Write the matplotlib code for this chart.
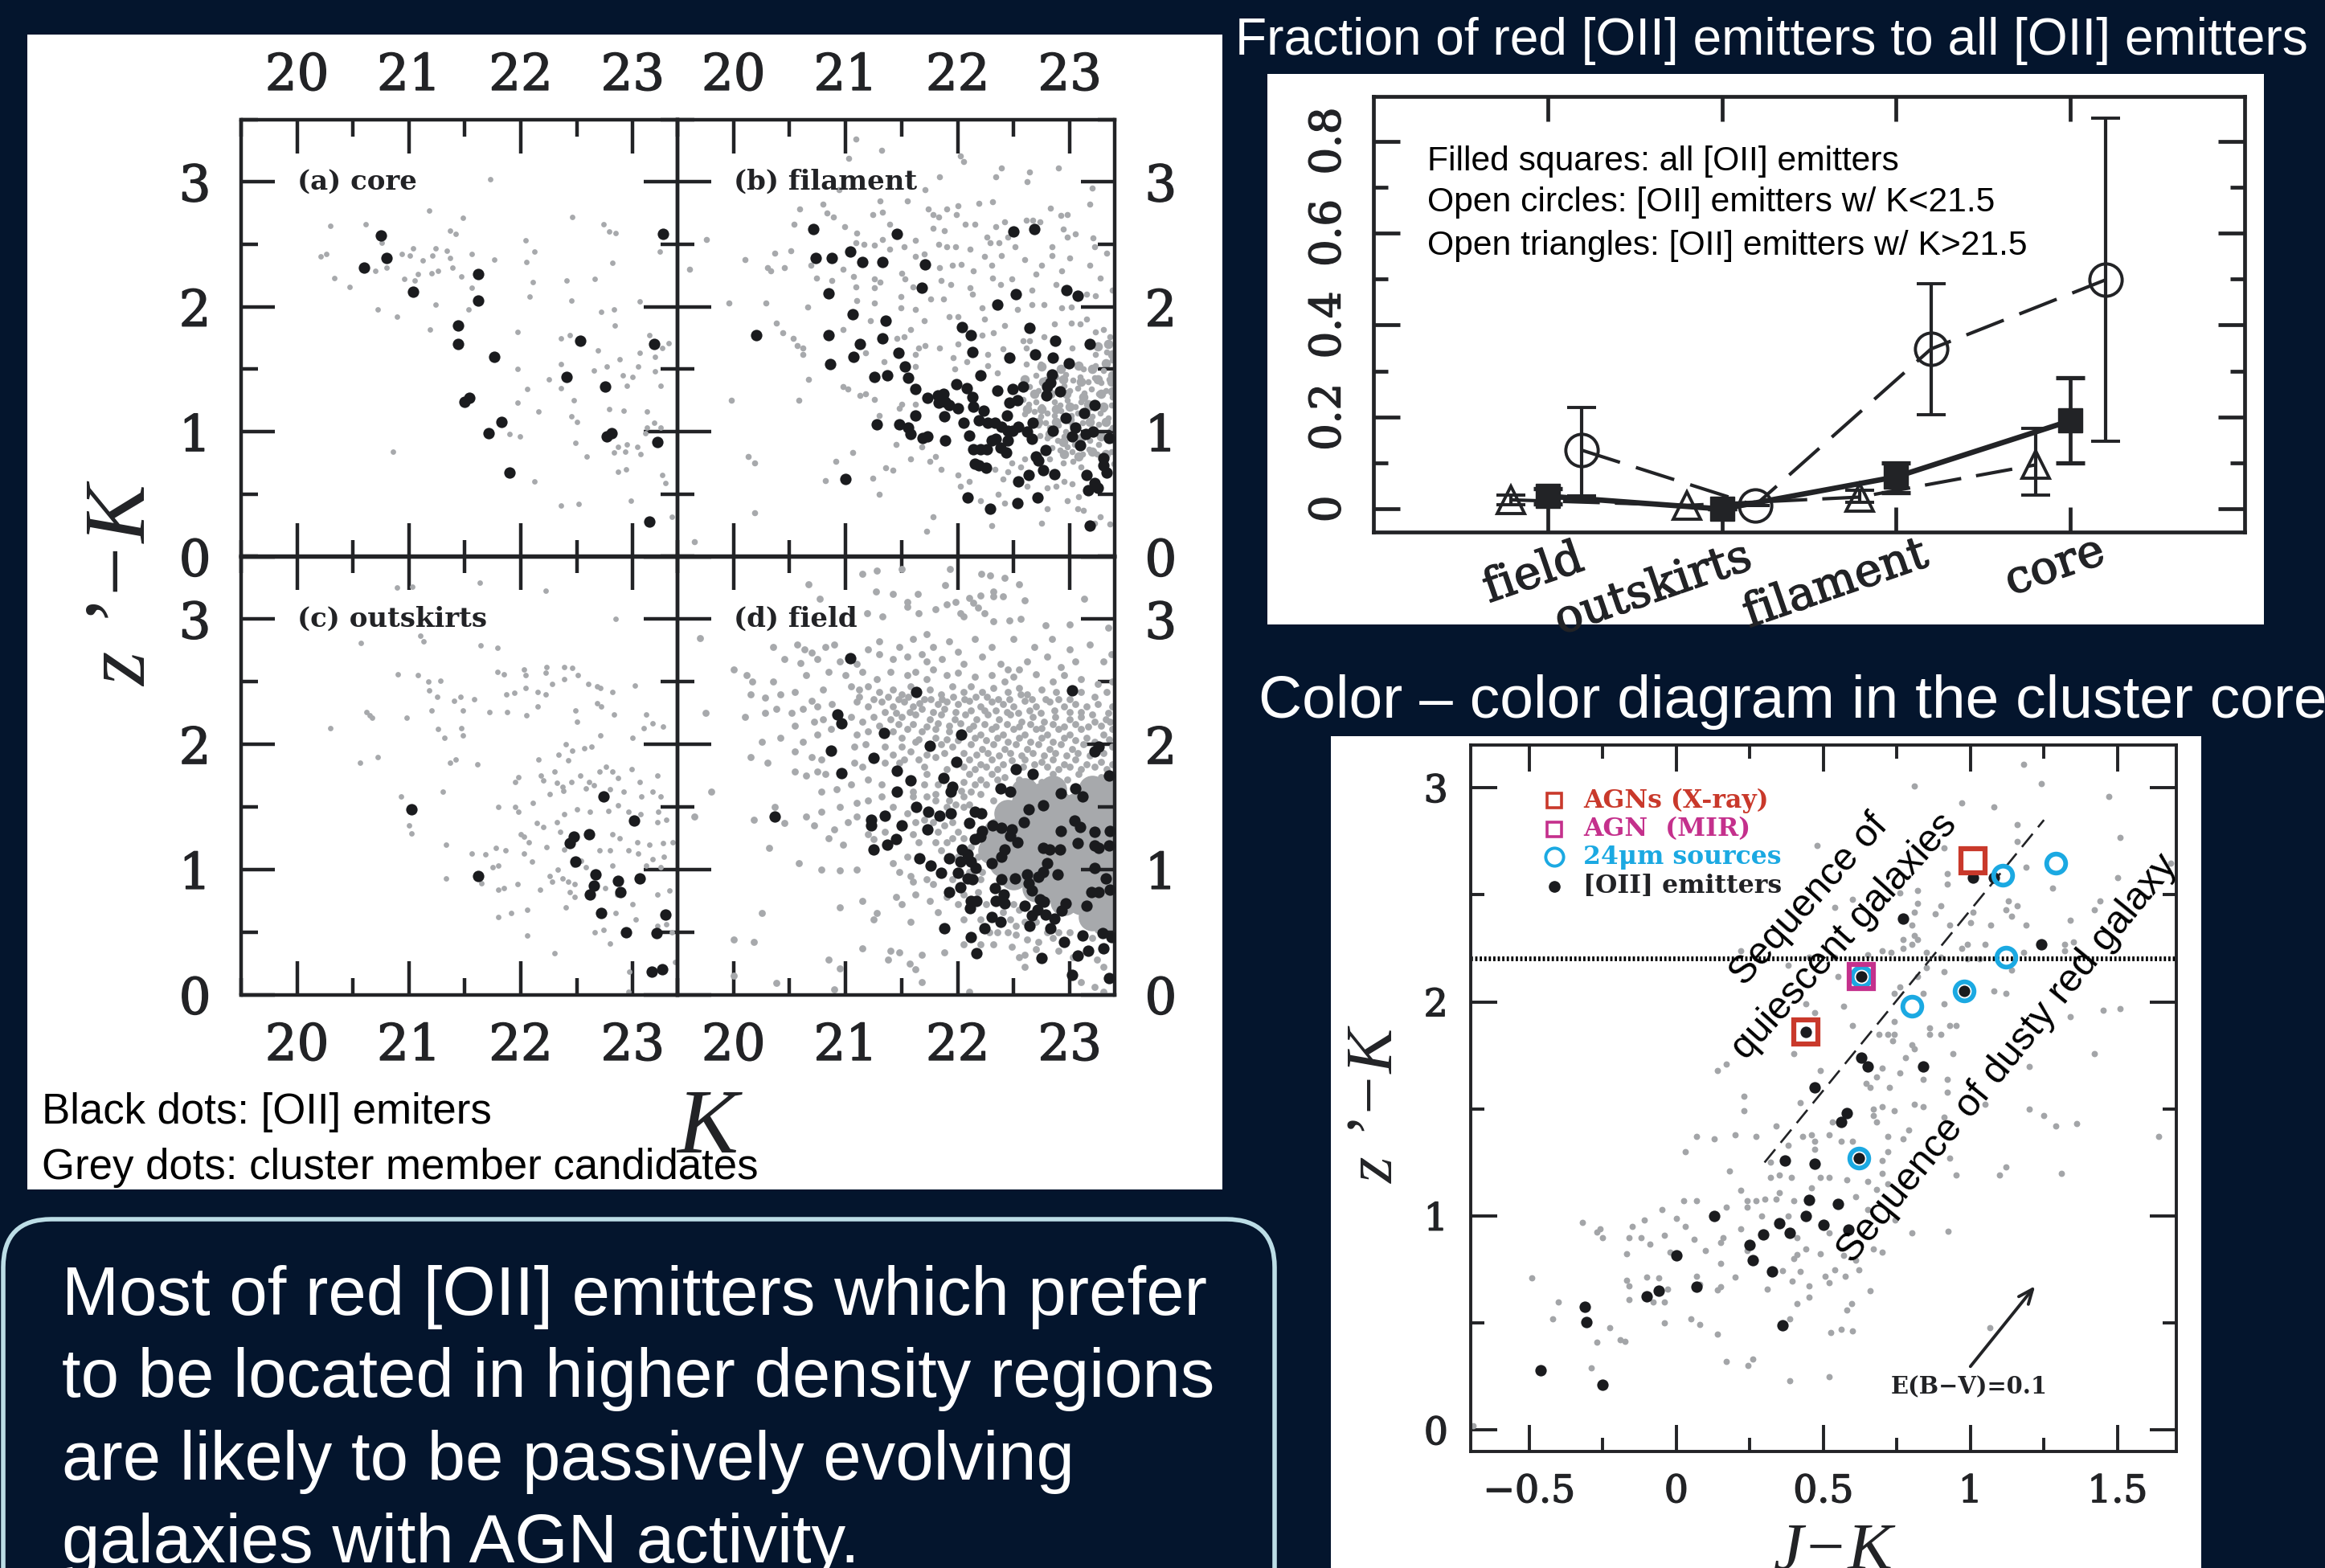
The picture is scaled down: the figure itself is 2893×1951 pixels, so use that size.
import matplotlib
matplotlib.use('Agg')
import matplotlib.pyplot as plt
import matplotlib.patheffects as pe
import numpy as np
from matplotlib.patches import Rectangle, FancyBboxPatch
from matplotlib.ticker import MultipleLocator

W, H = 2893, 1951
BG = '#04152d'
INK = '#222326'
GREY = '#a7a9ac'
RED = '#c9392b'
MAGENTA = '#c4308c'
CYAN = '#1ba9e2'

# (K, z'-K)
core_black = [(20.75,2.57),(20.80,2.39),(20.60,2.31),(21.04,2.12),(21.62,2.26),(21.62,2.05),(21.44,1.85),(21.44,1.70),
    (21.76,1.60),(21.54,1.27),(21.50,1.24),(21.83,1.08),(21.71,0.99),(21.90,0.67),(22.53,1.73),(22.41,1.44),(22.75,1.36),
    (22.81,0.99),(22.77,0.96),(23.19,1.70),(23.22,0.92),(23.15,0.28),(23.27,2.58)]
core_grey = [(20.30,2.65),(20.61,2.66),(20.21,2.40),(20.26,2.42),(20.33,2.23),(20.47,2.16),(20.72,1.98),(20.89,1.92),(20.86,0.84),
    (21.73,3.02),(21.18,2.77),(21.48,2.71),(21.37,2.61),(21.42,2.58),(20.76,2.51),(20.94,2.42),(21.04,2.47),(21.01,2.41),(21.12,2.37),
    (21.21,2.41),(21.24,2.47),(21.34,2.45),(21.37,2.39),(21.39,2.31),(21.26,2.29),(21.20,2.27),(21.08,2.26),(20.96,2.22),(21.05,2.21),
    (20.70,2.29),(20.80,2.31),(21.47,2.24),(21.56,2.15),(21.53,1.98),(21.24,2.02),(21.19,1.82),(21.56,2.42),(21.76,2.38),(22.04,2.53),
    (22.12,2.44),(22.05,2.36),(22.11,2.20),(22.08,2.08),(21.97,1.80),(21.97,1.50),(22.06,1.34),(21.97,1.23),(22.16,1.16),(21.90,0.98),
    (21.99,0.96),(22.12,0.60),(22.36,0.41),(22.52,0.42),(22.46,2.72),(22.74,2.66),(22.79,2.60),(22.85,2.59),(22.82,2.35),(22.66,2.22),
    (22.41,2.21),(22.45,2.05),(22.72,1.96),(22.83,1.98),(22.84,1.85),(23.06,2.04),(22.44,1.77),(22.36,1.75),(22.69,1.65),(22.88,1.58),
    (22.77,1.52),(22.65,1.49),(22.36,1.54),(22.25,1.42),(22.36,1.35),(22.47,1.25),(22.45,1.12),(22.50,1.08),(22.79,1.18),(22.92,1.17),
    (23.13,1.16),(22.49,0.91),(22.59,0.80),(22.87,0.88),(22.95,0.90),(23.04,0.88),(22.83,0.83),(22.93,0.84),(23.07,0.82),(22.87,0.68),
    (22.94,0.70),(22.98,0.45),(23.26,0.65),(23.29,0.59),(23.35,0.32),(22.91,1.45),(23.00,1.44),(22.95,1.37),(23.05,1.52),(23.06,1.63),
    (23.20,1.60),(23.20,1.48),(23.25,1.37),(23.15,1.77),(23.32,1.71),(23.26,1.67),(23.24,2.44),(23.13,1.03),(23.19,1.07),(23.25,1.03),(23.11,0.99)]

filament_black = [(20.71,2.62),(20.73,2.39),(20.88,2.39),(21.04,2.44),(21.15,2.36),(21.33,2.36),(21.46,2.58),(21.71,2.34),(21.68,2.15),
    (20.85,2.11),(21.06,1.94),(21.36,1.89),(20.20,1.77),(20.85,1.77),(21.33,1.75),(21.13,1.70),(21.07,1.60),(20.86,1.54),(21.47,1.63),
    (21.53,1.52),(21.26,1.44),(21.37,1.45),(21.56,1.43),(21.62,1.34),(21.73,1.27),(21.82,1.29),(21.87,1.30),(21.83,1.23),(21.89,1.24),
    (21.92,1.21),(21.99,1.38),(22.08,1.35),(22.13,1.28),(22.00,1.19),(21.62,1.13),(21.88,1.12),(21.28,1.06),(21.48,1.06),(21.56,1.03),
    (21.58,0.98),(21.69,0.95),(21.73,0.96),(21.89,0.93),(22.05,1.07),(22.10,0.97),(22.14,1.20),(22.23,1.17),(22.19,1.09),(22.27,1.07),
    (22.33,1.07),(22.14,0.86),(22.20,0.86),(22.26,0.86),(22.30,0.93),(22.34,0.94),(22.38,0.87),(22.43,0.83),(22.45,0.93),(22.39,1.04),
    (22.45,1.01),(22.49,1.01),(22.54,1.04),(22.44,1.13),(22.46,1.23),(22.53,1.25),(22.35,1.33),(22.49,1.34),(22.58,1.36),(22.20,1.45),
    (22.13,1.64),(22.12,1.77),(22.04,1.84),(22.35,2.02),(22.52,2.10),(22.64,1.83),(22.46,1.59),(22.69,1.62),(22.87,1.73),(22.85,1.59),
    (22.99,1.55),(23.18,1.70),(22.97,2.13),(23.07,2.09),(22.50,2.60),(22.68,2.62),(22.84,1.46),(22.83,1.39),(22.80,1.36),(22.91,1.32),
    (22.79,1.29),(23.22,1.21),(23.13,1.15),(22.96,1.11),(22.67,1.07),(22.62,1.00),(22.66,0.94),(22.85,1.01),(23.05,1.03),(23.02,0.96),
    (23.14,0.98),(23.21,1.00),(23.09,0.89),(23.35,0.95),(22.78,0.85),(22.70,0.80),(22.72,0.77),(22.76,0.69),(22.86,0.66),(22.63,0.65),
    (22.54,0.60),(22.15,0.74),(22.19,0.73),(22.25,0.71),(22.09,0.47),(22.29,0.38),(22.53,0.43),(22.71,0.47),(23.15,0.65),(23.16,0.53),
    (23.22,0.59),(23.25,0.55),(23.30,0.79),(23.30,0.73),(23.33,0.67),(23.18,0.25),(21.00,0.62)]
filament_grey = [(19.76,2.54),(19.61,2.30),(20.10,2.38),(20.37,2.43),(20.51,2.45),(20.30,2.31),(20.33,2.29),(20.45,2.31),(19.96,2.03),(20.29,2.03),
    (20.66,2.0),(20.38,1.87),(20.44,1.79),(20.53,1.75),(20.57,1.69),(20.62,1.67),(20.62,1.62),(20.67,1.42),(19.98,1.25),(20.58,1.25),(20.13,0.80),
    (20.19,0.75),(20.19,0.35),(19.65,0.12),(20.91,0.76),(21.06,0.83),(20.82,0.61),(21.24,0.63),(21.30,0.50),(20.98,1.36),(21.02,1.34),(21.13,1.29),
    (21.18,1.30),(21.26,1.26),(21.09,3.34),(21.32,3.25),(21.03,3.19),(22.02,3.21),(22.05,3.16),(21.84,3.04),(22.39,3.11),(22.34,3.04),(22.64,3.08),
    (22.62,3.0),(22.90,3.11),(23.2,2.95),(21.71,2.94),(20.94,2.94),(21.31,2.85),(21.55,2.85),(20.59,2.78),(20.80,2.82),(20.83,2.75),(20.89,2.72),
    (21.33,2.76),(21.24,2.74),(21.74,2.78),(21.90,2.78),(22.0,2.81),(22.19,2.83),(22.31,2.84),(21.78,2.74),(21.83,2.72),(21.99,2.74),(22.07,2.66),
    (22.15,2.66),(22.83,2.79),(22.92,2.73),(22.98,2.74),(23.18,2.82),(20.54,2.66),(20.99,2.64),(21.10,2.59),(21.39,2.66),(21.78,2.63),(21.88,2.61),
    (22.34,2.64),(22.42,2.68),(22.45,2.56),(22.61,2.69),(22.67,2.69),(22.73,2.68),(22.94,2.62),(22.98,2.56),(23.05,2.58),(23.21,2.55),(23.22,2.48),
    (23.33,2.43),(21.09,2.51),(21.16,2.50),(21.26,2.49),(21.33,2.54),(21.39,2.46),(21.52,2.48),(21.62,2.53),(21.83,2.50),(21.90,2.48),(21.98,2.48),
    (22.11,2.46),(22.26,2.56),(22.29,2.51),(22.37,2.51),(22.51,2.48),(22.84,2.48),(21.62,2.40),(21.70,2.42),(22.24,2.40),(22.39,2.41),(22.60,2.38),
    (22.84,2.41),(23.0,2.39),(22.75,2.33),(23.18,2.33),(20.69,2.33),(20.74,2.23),(20.88,2.21),(20.98,2.30),(21.07,2.24),(21.26,2.22),(21.31,2.20),
    (21.50,2.27),(21.53,2.22),(21.84,2.31),(21.95,2.33),(22.03,2.34),(22.14,2.29),(22.30,2.33),(22.31,2.23),(22.70,2.26),(22.93,2.29),(23.27,2.23),
    (21.09,2.16),(21.26,2.15),(21.49,2.08),(21.60,2.16),(21.85,2.21),(21.94,2.18),(22.11,2.15),(22.38,2.18),(22.48,2.22),(22.66,2.13),(22.88,2.18),
    (23.15,2.10),(23.23,2.09),(23.38,2.13),(21.10,2.05),(21.26,2.03),(21.49,1.99),(21.62,1.98),(21.76,2.06),(21.87,2.06),(22.13,2.10),(22.22,1.99),
    (22.53,1.98),(22.66,2.02),(22.77,2.02),(22.93,1.99),(23.01,2.0),(23.15,1.90),(21.22,1.89),(20.98,1.82),(21.58,1.82),(21.70,1.89),(21.92,1.92),
    (22.0,1.92),(22.24,1.90),(22.42,1.85),(22.86,1.86),(23.01,1.87),(23.09,1.86),(21.52,1.76),(21.46,1.75),(21.65,1.67),(21.71,1.69),(21.84,1.67),
    (22.0,1.70),(22.22,1.77),(22.32,1.79),(22.58,1.73),(22.64,1.73),(22.77,1.76),(23.23,1.80),(23.30,1.82),(23.36,1.76),(21.18,1.63),(21.62,1.62),
    (21.96,1.59),(22.08,1.56),(22.27,1.62),(22.40,1.66),(22.61,1.67),(23.02,1.67),(23.23,1.62),(23.33,1.64),(23.38,1.57),(21.34,1.56),(21.62,1.52),
    (21.97,1.50),(22.27,1.53),(22.35,1.47),(22.61,1.54),(22.74,1.54),(23.12,1.50),(23.23,1.53),(23.30,1.49),(22.70,1.45),(22.78,1.42),(22.88,1.44),
    (22.96,1.46),(23.03,1.41),(23.09,1.44),(23.16,1.40),(23.22,1.43),(23.28,1.39),(23.35,1.42),(22.64,1.36),(22.72,1.33),(22.95,1.37),(23.00,1.33),
    (23.07,1.35),(23.13,1.31),(23.19,1.34),(23.26,1.30),(23.32,1.33),(23.38,1.28),(22.58,1.26),(22.63,1.22),(22.70,1.24),(22.75,1.20),(22.86,1.24),
    (22.91,1.21),(22.98,1.25),(23.05,1.20),(23.10,1.24),(23.17,1.19),(23.24,1.22),(23.30,1.18),(23.37,1.21),(22.60,1.14),(22.68,1.16),(22.74,1.12),
    (22.80,1.15),(22.86,1.13),(22.92,1.17),(23.01,1.13),(23.07,1.15),(23.20,1.12),(23.27,1.15),(23.34,1.11),(22.72,1.05),(22.78,1.07),(22.82,1.03),
    (22.90,1.05),(22.96,1.00),(23.02,1.05),(23.11,1.07),(23.26,1.06),(23.38,1.03),(22.73,0.97),(22.80,0.95),(22.89,0.93),(22.95,0.96),(23.04,0.90),
    (23.18,0.93),(23.26,0.90),(23.38,0.93),(22.84,0.87),(22.91,0.85),(22.98,0.88),(23.02,0.84),(23.11,0.82),(23.17,0.86),(23.24,0.82),(23.37,0.84),
    (22.48,0.75),(22.56,0.72),(22.60,0.78),(22.82,0.78),(22.94,0.75),(23.03,0.76),(23.10,0.72),(23.39,0.74),(21.56,0.98),(21.68,0.88),(21.80,0.80),
    (22.33,0.70),(22.40,0.62),(22.45,0.68),(22.62,0.56),(22.80,0.55),(22.88,0.56),(22.95,0.60),(23.02,0.58),(23.08,0.48),(22.10,0.60),(22.00,0.65),
    (21.85,0.70),(21.75,0.76),(21.58,0.78),(21.42,0.69),(21.36,0.71),(21.45,0.90),(21.30,1.13),(21.48,1.19),(21.50,1.22),(21.62,1.22),(22.02,0.56),
    (22.36,0.50),(22.42,0.43),(22.20,0.45),(22.80,0.38),(22.98,0.45),(23.07,0.38),(23.12,0.37),(23.22,0.27),(23.27,0.32),(23.36,0.26),(22.30,0.25),
    (22.75,0.27),(21.72,0.20),(21.78,0.32)]
# the crowded patch of the filament panel
filament_crowd = [(22.75,1.52),(22.92,1.50),(23.08,1.53),(23.20,1.50),(23.32,1.55),(22.60,1.42),(22.76,1.40),(22.94,1.42),(23.10,1.40),(23.25,1.42),(23.37,1.40),
    (22.68,1.30),(22.83,1.30),(22.97,1.30),(23.12,1.28),(23.28,1.30),(23.38,1.32),(22.62,1.18),(22.75,1.18),(22.88,1.18),(23.00,1.20),(23.16,1.22),(23.30,1.20),
    (22.72,1.08),(22.88,1.08),(23.00,1.10),(23.18,1.08),(23.32,1.08),(22.82,0.98),(22.94,0.92),(23.10,0.95),(23.28,0.96),(23.37,1.00),(22.95,0.82),(23.08,0.80),
    (23.20,0.84),(23.32,0.82),(23.38,1.45),(23.25,1.68),(23.34,1.70),(23.38,1.62)]

outskirts_black = [(21.02,1.48),(21.62,0.95),(22.74,1.58),(23.01,1.39),(22.47,1.26),(22.44,1.21),(22.61,1.28),(22.49,1.06),(22.67,0.96),
    (22.65,0.87),(22.62,0.80),(22.87,0.91),(22.89,0.82),(23.06,0.93),(22.72,0.65),(22.94,0.50),(23.21,0.49),(23.29,0.64),(23.17,0.18),(23.26,0.20)]
outskirts_grey = [(20.89,3.25),(21.03,3.26),(21.63,3.29),(22.22,3.23),(22.85,3.0),(21.10,2.87),(21.13,2.82),(20.57,2.81),(21.64,2.79),(21.79,2.77),
    (22.22,2.57),(22.23,2.62),(22.03,2.60),(22.04,2.55),(21.79,2.58),(21.85,2.56),(21.08,2.55),(20.90,2.56),(21.17,2.50),(21.28,2.51),(21.18,2.43),
    (22.39,2.62),(22.46,2.61),(22.51,2.55),(22.60,2.48),(22.68,2.46),(22.71,2.45),(22.82,2.42),(23.02,2.47),(22.39,2.52),(22.28,2.48),(22.22,2.40),
    (22.15,2.42),(22.04,2.45),(21.87,2.40),(21.94,2.41),(21.25,2.38),(21.40,2.35),(21.46,2.38),(21.58,2.36),(21.20,2.27),(21.72,2.26),(21.88,2.26),
    (22.15,2.30),(22.05,2.23),(21.48,2.27),(22.49,2.27),(22.68,2.33),(22.72,2.30),(22.83,2.24),(23.12,2.24),(20.62,2.26),(20.65,2.23),(20.67,2.21),
    (20.30,2.13),(20.98,2.21),(21.26,2.12),(21.47,2.13),(21.48,2.07),(21.32,2.05),(22.50,2.18),(22.71,2.07),(22.40,2.00),(22.63,1.98),(22.57,1.97),
    (23.0,2.05),(23.10,2.13),(23.18,2.17),(23.27,2.14),(21.42,1.88),(21.37,1.85),(20.56,1.85),(20.72,1.90),(21.61,1.84),(22.34,1.92),(22.16,1.88),
    (22.30,1.78),(22.42,1.87),(22.46,1.95),(22.76,1.82),(22.82,1.78),(22.18,1.75),(22.20,1.71),(21.98,1.74),(21.95,1.70),(22.32,1.69),(22.37,1.66),
    (22.45,1.70),(22.53,1.75),(22.61,1.70),(22.70,1.78),(22.87,1.73),(22.99,1.80),(23.06,1.70),(23.22,1.75),(22.26,1.60),(22.38,1.63),(22.58,1.65),
    (22.65,1.67),(22.80,1.64),(22.92,1.62),(23.08,1.58),(23.18,1.62),(23.25,1.58),(21.30,1.62),(20.93,1.58),(21.80,1.50),(21.95,1.50),(21.98,1.46),
    (22.11,1.53),(22.39,1.44),(22.50,1.48),(22.62,1.46),(22.78,1.47),(22.87,1.51),(22.96,1.46),(23.07,1.44),(23.23,1.46),(23.22,1.38),(23.30,1.40),
    (22.14,1.37),(22.20,1.34),(21.00,1.35),(21.02,1.29),(22.03,1.26),(22.00,1.28),(22.07,1.22),(22.32,1.38),(22.35,1.30),(22.82,1.28),(22.88,1.25),
    (23.04,1.22),(23.15,1.20),(23.27,1.21),(23.36,1.22),(21.33,1.20),(21.78,1.17),(21.86,1.15),(22.23,1.18),(22.39,1.16),(22.70,1.15),(22.80,1.15),
    (22.96,1.15),(23.05,1.13),(23.18,1.08),(23.28,1.10),(21.56,1.13),(21.68,1.12),(21.75,1.02),(21.80,1.03),(22.03,1.13),(22.10,1.06),(22.33,1.00),
    (22.47,1.04),(22.54,1.07),(22.58,1.02),(22.82,1.03),(23.12,1.03),(23.25,1.02),(22.26,0.95),(22.28,0.90),(22.37,0.93),(22.42,0.90),(22.48,0.88),
    (21.33,0.93),(21.65,0.89),(21.80,0.84),(21.85,0.85),(21.97,0.88),(22.17,0.84),(22.75,0.85),(22.86,0.80),(23.0,0.72),(23.22,0.80),(23.33,0.83),
    (22.44,0.82),(22.48,0.78),(22.40,0.70),(22.06,0.68),(21.80,0.62),(21.91,0.65),(22.85,0.65),(23.03,0.60),(22.66,0.50),(22.74,0.52),(22.06,0.47),
    (23.22,0.55),(23.30,0.56),(22.80,0.41),(22.30,0.33),(23.38,0.26),(22.97,0.18),(22.96,0.02),(23.35,0.50)]

field_black = [(21.04,2.69),(21.63,2.42),(23.02,2.43),(20.93,2.24),(20.96,2.17),(21.34,2.09),(22.03,2.08),(21.75,1.99),(20.87,1.95),(21.25,1.89),
    (21.99,1.86),(20.96,1.77),(21.46,1.79),(22.52,1.80),(22.67,1.76),(21.87,1.73),(21.58,1.71),(21.46,1.62),(21.95,1.66),(21.94,1.62),(22.38,1.65),
    (22.47,1.62),(22.92,1.61),(23.05,1.65),(23.11,1.58),(23.22,1.94),(23.26,1.98),(23.35,1.75),(22.76,1.51),(22.63,1.48),(20.37,1.42),(21.63,1.50),
    (21.74,1.46),(21.84,1.43),(21.94,1.45),(22.15,1.46),(22.21,1.45),(21.35,1.43),(21.23,1.40),(21.23,1.35),(21.50,1.35),(21.73,1.32),(22.10,1.37),
    (22.31,1.35),(22.39,1.33),(22.22,1.31),(22.59,1.38),(22.48,1.32),(22.47,1.27),(22.53,1.22),(22.20,1.26),(22.15,1.24),(23.04,1.39),(23.09,1.34),
    (22.92,1.31),(23.22,1.30),(23.36,1.31),(21.45,1.24),(21.37,1.20),(21.25,1.16),(23.07,1.21),(22.76,1.17),(22.82,1.16),(22.91,1.16),(23.22,1.19),
    (23.26,1.17),(23.35,1.19),(22.04,1.16),(22.09,1.12),(22.42,1.16),(22.39,1.10),(21.66,1.09),(21.92,1.09),(22.02,1.06),(22.12,1.06),(22.30,1.05),
    (21.76,1.03),(22.80,1.05),(22.16,1.01),(22.76,0.98),(22.72,0.94),(22.89,0.96),(23.22,1.01),(21.85,0.97),(22.0,0.97),(22.62,0.96),(22.51,0.93),
    (23.32,0.93),(22.09,0.93),(22.13,0.92),(22.39,0.92),(22.63,0.89),(22.02,0.86),(22.33,0.85),(22.66,0.83),(21.92,0.82),(23.19,0.82),(23.26,0.82),
    (23.36,0.84),(22.41,0.80),(22.73,0.76),(22.34,0.75),(22.42,0.73),(22.77,0.74),(22.17,0.75),(22.12,0.75),(22.96,0.73),(22.60,0.71),(23.15,0.71),
    (22.11,0.69),(22.71,0.68),(22.93,0.67),(22.78,0.64),(22.66,0.63),(22.86,0.61),(22.30,0.62),(22.38,0.58),(22.64,0.55),(22.24,0.53),(22.83,0.53),
    (21.88,0.53),(22.12,0.46),(22.95,0.42),(23.11,0.47),(23.29,0.49),(23.37,0.46),(22.17,0.33),(22.75,0.29),(23.07,0.31),(23.16,0.35),(23.30,0.37),
    (23.02,0.16),(23.35,0.13)]
field_grey = [(21.15,3.36),(21.28,3.39),(21.5,3.40),(21.93,3.40),(22.21,3.36),(22.29,3.35),(22.42,3.33),(22.55,3.28),(20.67,3.28),(21.27,3.22),(21.42,3.20),
    (21.64,3.20),(21.55,3.14),(21.55,3.10),(21.89,3.27),(22.2,3.19),(22.32,3.22),(22.32,3.18),(22.4,3.18),(20.77,3.16),(21.9,3.12),(21.98,3.14),(22.1,3.17),
    (22.14,3.13),(22.18,3.09),(22.24,3.05),(22.6,3.15),(23.13,3.16),(21.19,3.05),(21.33,3.02),(21.65,3.05),(21.8,3.08),(22.02,3.05),(22.05,3.02),(22.32,2.98),
    (22.46,2.99),(22.56,3.0),(22.78,2.95),(23.0,2.96),(23.34,2.93),(19.7,2.85),(20.35,2.78),(20.57,2.80),(20.63,2.76),(20.7,2.73),(20.82,2.78),(20.9,2.80),
    (21.2,2.76),(21.3,2.82),(21.48,2.78),(21.6,2.84),(21.72,2.88),(21.78,2.78),(21.92,2.82),(22.0,2.74),(22.15,2.84),(22.3,2.78),(22.5,2.84),(22.68,2.78),
    (22.84,2.84),(23.0,2.76),(23.18,2.80),(20.45,2.68),(20.6,2.65),(20.75,2.68),(20.95,2.66),(21.1,2.64),(21.3,2.72),(21.42,2.68),(21.55,2.70),(21.68,2.72),
    (21.72,2.66),(21.78,2.60),(21.86,2.68),(22.05,2.64),(22.22,2.70),(22.38,2.64),(22.45,2.60),(22.55,2.60),(22.62,2.66),(22.8,2.70),(22.92,2.62),(23.05,2.66),
    (23.3,2.66),(23.37,2.72),(20.0,2.60),(20.12,2.55),(20.17,2.50),(20.35,2.50),(20.65,2.55),(20.85,2.58),(21.0,2.55),(21.15,2.58),(21.28,2.52),(21.4,2.58),
    (21.55,2.55),(21.62,2.58),(21.72,2.52),(21.9,2.55),(22.0,2.57),(22.15,2.54),(22.3,2.55),(22.42,2.50),(22.5,2.54),(22.7,2.56),(22.85,2.50),(22.95,2.55),
    (23.1,2.52),(23.25,2.48),(23.38,2.50),(20.15,2.40),(20.28,2.37),(20.42,2.40),(20.55,2.42),(20.7,2.35),(20.8,2.44),(21.05,2.46),(21.12,2.44),(21.2,2.46),
    (21.3,2.42),(21.42,2.44),(21.5,2.40),(21.58,2.46),(21.75,2.44),(21.85,2.40),(21.95,2.46),(22.05,2.42),(22.12,2.46),(22.22,2.42),(22.32,2.45),(22.45,2.42),
    (22.55,2.45),(22.62,2.40),(22.75,2.44),(22.88,2.42),(23.1,2.42),(23.22,2.38),(23.33,2.42),(19.75,2.25),(20.1,2.22),(20.28,2.25),(20.38,2.28),(20.52,2.25),
    (20.62,2.28),(20.75,2.30),(20.88,2.32),(21.1,2.34),(21.2,2.30),(21.32,2.34),(21.42,2.30),(21.52,2.34),(21.6,2.30),(21.7,2.36),(21.82,2.32),(21.9,2.34),
    (22.0,2.32),(22.1,2.35),(22.2,2.30),(22.3,2.34),(22.4,2.32),(22.5,2.30),(22.6,2.35),(22.7,2.30),(22.82,2.34),(22.95,2.30),(23.05,2.32),(23.15,2.30),
    (23.25,2.32),(23.38,2.30),(20.55,2.15),(20.72,2.18),(20.8,2.20),(20.87,2.12),(21.05,2.22),(21.15,2.18),(21.25,2.22),(21.4,2.20),(21.5,2.22),(21.62,2.24),
    (21.75,2.20),(21.85,2.24),(21.97,2.20),(22.07,2.24),(22.17,2.20),(22.27,2.24),(22.37,2.20),(22.47,2.24),(22.57,2.18),(22.67,2.22),(22.77,2.18),(22.87,2.22),
    (23.0,2.20),(23.1,2.22),(23.22,2.18),(23.32,2.20),(23.38,2.12),(20.25,2.02),(20.42,2.05),(20.62,2.02),(20.75,2.08),(21.1,2.08),(21.2,2.10),(21.42,2.10),
    (21.55,2.12),(21.68,2.10),(21.8,2.12),(21.92,2.10),(22.1,2.12),(22.2,2.08),(22.3,2.12),(22.4,2.08),(22.5,2.12),(22.6,2.08),(22.7,2.12),(22.8,2.08),(22.9,2.12),
    (23.0,2.08),(23.1,2.12),(23.3,2.08),(20.15,1.90),(20.3,1.85),(20.55,1.94),(20.7,1.90),(20.78,1.88),(21.08,1.98),(21.18,2.0),(21.35,1.98),(21.5,1.98),(21.62,2.02),
    (21.85,2.0),(21.95,1.98),(22.12,2.0),(22.22,1.96),(22.32,2.0),(22.42,1.96),(22.52,2.0),(22.62,1.96),(22.72,2.0),(22.82,1.96),(22.92,2.0),(23.02,1.96),(23.12,2.0),
    (23.38,1.98),(20.55,1.78),(20.65,1.75),(20.75,1.78),(20.82,1.76),(21.08,1.85),(21.15,1.82),(21.35,1.85),(21.52,1.88),(21.65,1.88),(21.8,1.90),(22.1,1.88),
    (22.2,1.84),(22.3,1.88),(22.4,1.84),(22.6,1.88),(22.75,1.86),(22.85,1.88),(22.95,1.84),(23.05,1.88),(23.15,1.84),(23.28,1.86),(23.38,1.84),(19.8,1.62),
    (20.78,1.62),(20.92,1.64),(21.05,1.68),(21.2,1.72),(21.32,1.68),(21.6,1.62),(21.72,1.76),(21.8,1.60),(22.1,1.76),(22.2,1.72),(22.3,1.76),(22.42,1.74),(22.85,1.76),
    (22.98,1.72),(23.08,1.76),(23.18,1.72),(23.28,1.74),(20.37,1.50),(20.65,1.42),(20.78,1.46),(20.95,1.50),(21.1,1.53),(21.2,1.55),(21.32,1.58),(21.6,1.58),
    (21.8,1.55),(21.92,1.55),(22.05,1.58),(22.2,1.60),(22.32,1.55),(19.65,1.42),(20.18,1.40),(20.45,1.37),(20.72,1.35),(20.9,1.32),(21.02,1.38),(21.1,1.42),
    (21.42,1.50),(21.55,1.45),(21.62,1.38),(21.88,1.35),(22.05,1.50),(20.85,1.25),(20.98,1.20),(21.2,1.28),(21.25,1.24),(21.35,1.30),(21.6,1.28),(21.65,1.22),
    (21.8,1.22),(21.95,1.25),(22.05,1.25),(20.32,1.17),(20.58,1.05),(20.78,1.0),(20.95,0.99),(21.1,1.0),(21.42,1.05),(21.55,1.10),(21.48,0.98),(21.58,0.95),
    (21.6,0.90),(21.72,0.92),(21.78,0.88),(21.95,0.92),(22.2,0.92),(20.95,0.70),(21.15,0.75),(21.45,0.78),(21.5,0.72),(21.62,0.80),(21.75,0.75),(21.82,0.66),
    (22.0,0.72),(22.05,0.60),(22.2,0.60),(21.28,0.65),(21.25,0.60),(21.58,0.58),(20.25,0.65),(20.0,0.44),(20.18,0.42),(21.15,0.37),(20.85,0.28),(20.95,0.21),
    (21.4,0.35),(21.48,0.34),(21.68,0.32),(21.38,0.28),(21.57,0.25),(21.62,0.20),(21.88,0.34),(22.05,0.40),(22.32,0.40),(22.48,0.38),(22.6,0.32),(22.7,0.36),
    (22.9,0.35),(23.03,0.30),(23.24,0.28),(23.3,0.22),(22.55,0.30),(22.6,0.22),(22.85,0.45),(22.45,0.50),(22.52,0.48),(22.62,0.44),(22.72,0.42),(20.0,0.15),
    (20.38,0.09),(20.9,0.04),(21.68,0.10),(22.1,0.02),(23.3,0.02),(23.22,0.06),(23.1,0.10),(22.52,0.55),(22.47,0.60),(22.55,0.68),(22.28,0.50),(22.2,0.40)]
# second pass over the busy upper band of the field panel
field_busy = [(21.12,2.38),(21.25,2.36),(21.38,2.38),(21.47,2.36),(21.56,2.38),(21.66,2.33),(21.76,2.36),(21.86,2.36),(21.96,2.38),(22.06,2.36),(22.16,2.38),(22.26,2.38),
    (22.36,2.36),(22.46,2.36),(22.56,2.40),(22.66,2.36),(22.78,2.36),(22.9,2.36),(23.0,2.36),(21.35,2.26),(21.45,2.25),(21.57,2.26),(21.68,2.28),(21.78,2.26),
    (21.88,2.28),(21.98,2.26),(22.12,2.27),(22.24,2.27),(22.34,2.27),(22.44,2.26),(22.54,2.25),(22.64,2.27),(22.74,2.25),(22.86,2.27),(23.0,2.26),(23.1,2.26),
    (23.2,2.24),(23.34,2.25),(21.3,2.15),(21.47,2.16),(21.6,2.16),(21.72,2.14),(21.82,2.17),(21.92,2.15),(22.02,2.17),(22.14,2.15),(22.24,2.16),(22.34,2.14),
    (22.44,2.16),(22.55,2.14),(22.65,2.16),(22.75,2.13),(22.85,2.16),(22.95,2.14),(23.05,2.16),(23.16,2.14),(23.28,2.15),(23.36,2.18),(21.5,2.05),(21.65,2.04),
    (21.8,2.05),(21.9,2.04),(22.0,2.03),(22.15,2.05),(22.25,2.03),(22.35,2.05),(22.45,2.02),(22.55,2.05),(22.65,2.02),(22.75,2.05),(22.85,2.02),(22.95,2.05),
    (23.05,2.03),(23.15,2.05),(23.22,2.02),(23.35,2.04),(21.42,1.92),(21.58,1.94),(21.72,1.92),(21.88,1.93),(22.05,1.93),(22.17,1.92),(22.27,1.93),(22.37,1.91),
    (22.47,1.93),(22.57,1.91),(22.67,1.93),(22.77,1.91),(22.87,1.93),(22.97,1.91),(23.07,1.93),(23.18,1.91),(23.3,1.93),(21.48,1.85),(21.7,1.82),(21.9,1.80),
    (22.05,1.82),(22.15,1.80),(22.25,1.82),(22.35,1.80),(22.48,1.87),(22.58,1.82),(22.68,1.84),(22.8,1.82),(22.9,1.80),(23.0,1.82),(23.1,1.80),(23.22,1.82),
    (23.33,1.80),(21.7,1.68),(21.82,1.68),(22.05,1.70),(22.15,1.68),(22.25,1.68),(22.35,1.72),(22.55,1.72),(22.65,1.70),(22.75,1.70),(22.03,1.63),(22.12,1.62),
    (21.72,1.58),(21.9,1.50),(21.98,1.52),(22.1,1.52),(21.7,1.40),(21.78,1.38),(21.95,1.38),(22.0,1.30),(21.82,1.30),(21.9,1.22),(22.12,1.18),(22.0,1.10),(21.85,1.15),
    (22.18,1.10),(22.1,0.98),(22.22,0.98),(21.9,0.78),(22.05,0.80),(22.18,0.82),(22.25,0.72),(22.4,0.66),(22.5,0.72),(22.35,0.50),(22.6,0.58),(22.7,0.58),(22.8,0.50),
    (22.9,0.50),(23.0,0.50),(23.2,0.45),(23.25,0.52),(23.38,0.55)]
# the solid grey mass of the field panel
field_mass = [(22.45,1.45),(22.6,1.52),(22.75,1.58),(22.9,1.52),(23.05,1.50),(23.2,1.52),(23.35,1.55),(22.35,1.30),(22.5,1.35),(22.65,1.38),(22.8,1.40),
    (22.95,1.42),(23.1,1.38),(23.25,1.40),(23.38,1.42),(22.3,1.15),(22.45,1.20),(22.6,1.22),(22.75,1.25),(22.9,1.28),(23.05,1.25),(23.2,1.25),(23.35,1.28),
    (22.4,1.05),(22.55,1.08),(22.7,1.10),(22.85,1.12),(23.0,1.10),(23.15,1.12),(23.3,1.10),(23.4,1.12),(22.5,0.95),(22.65,0.98),
    (22.8,0.98),(22.95,0.98),(23.1,0.98),(23.25,0.98),(23.38,0.98),(22.7,0.85),(22.85,0.85),(23.0,0.85),(23.15,0.86),(23.3,0.85),(23.4,0.82),
    (22.95,0.74),(23.1,0.75),(23.25,0.72),(23.38,0.72),(23.2,0.62),(23.35,0.62),(22.6,1.62),(22.85,1.64),(23.2,1.64),(23.35,1.66)]

# (J-K, z'-K)
cc_grey = [(1.18,3.11),(1.24,3.02),(0.81,3.01),(1.47,2.96),(0.97,2.93),(1.08,2.91),(1.16,2.83),(1.51,2.77),(1.16,2.75),(0.48,2.73),(0.91,2.72),(1.19,2.63),
    (0.92,2.60),(0.92,2.55),(1.28,2.53),(1.50,2.58),(0.82,2.52),(1.68,2.65),(0.76,2.51),(1.13,2.47),(1.44,2.47),(0.60,2.48),(1.42,2.43),(1.16,2.45),(1.12,2.43),
    (0.82,2.46),(0.90,2.45),(0.88,2.41),(0.81,2.42),(1.01,2.42),(0.54,2.44),(1.14,2.40),(1.34,2.38),(1.19,2.36),(1.07,2.36),(0.93,2.36),(0.80,2.36),(1.0,2.37),
    (0.81,2.31),(0.77,2.29),(0.82,2.29),(0.80,2.27),(0.99,2.27),(1.05,2.27),(0.97,2.25),(1.32,2.27),(1.35,2.28),(1.32,2.24),(0.22,2.24),(0.77,2.25),(0.70,2.24),
    (0.73,2.23),(0.65,2.22),(0.54,2.21),(0.45,2.21),(0.85,2.23),(0.90,2.21),(0.99,2.20),(1.18,2.23),(1.03,2.20),(0.85,2.16),(1.14,2.15),(0.91,2.14),(0.82,2.12),
    (0.38,2.17),(0.55,2.12),(1.08,2.05),(1.12,2.04),(0.76,2.07),(0.74,2.04),(0.84,2.04),(0.91,1.99),(0.44,1.99),(0.57,1.98),(0.47,1.95),(1.51,1.97),(1.45,1.96),
    (1.34,1.93),(0.60,1.89),(0.74,1.91),(0.93,1.89),(0.95,1.89),(0.86,1.88),(0.90,1.85),(0.69,1.85),(0.72,1.85),(0.74,1.85),(0.735,1.82),(0.86,1.85),(0.80,1.80),
    (0.81,1.78),(0.40,1.76),(0.94,1.76),(0.78,1.74),(1.42,1.76),(0.17,1.71),(0.14,1.68),(1.20,1.70),(0.76,1.67),(0.70,1.69),(0.68,1.65),(0.49,1.68),(0.84,1.64),
    (0.92,1.64),(0.92,1.58),(0.645,1.62),(0.66,1.60),(0.725,1.60),(0.23,1.56),(1.05,1.52),(0.81,1.52),(0.84,1.51),(1.20,1.50),(0.67,1.50),(0.70,1.51),(0.74,1.49),
    (0.23,1.49),(0.42,1.53),(1.25,1.47),(0.67,1.47),(0.91,1.46),(0.53,1.44),(0.68,1.44),(0.34,1.42),(1.29,1.42),(1.36,1.43),(1.64,1.37),(0.79,1.40),(0.77,1.36),
    (0.72,1.37),(0.07,1.37),(0.13,1.36),(0.20,1.38),(0.27,1.37),(0.43,1.37),(0.46,1.38),(0.38,1.33),(0.52,1.38),(0.56,1.35),(0.60,1.35),(0.47,1.35),(0.03,1.30),
    (0.47,1.31),(0.93,1.27),(0.70,1.26),(0.72,1.30),(0.32,1.25),(0.18,1.21),(1.12,1.23),(1.10,1.19),(1.31,1.20),(0.95,1.19),(0.70,1.20),(0.35,1.19),(0.32,1.18),
    (0.39,1.18),(0.49,1.18),(0.52,1.18),(0.58,1.17),(0.65,1.16),(0.72,1.15),(0.22,1.12),(0.35,1.11),(0.46,1.13),(0.68,1.125),(0.025,1.07),(0.07,1.07),(0.24,1.07),
    (0.27,1.07),(0.30,1.08),(0.34,1.08),(0.40,1.07),(0.61,1.09),(0.17,1.04),(0.24,1.04),(-0.05,1.03),(0.65,1.03),(0.0,0.99),(0.29,1.0),(0.38,1.0),(0.745,0.98),
    (-0.11,0.98),(-0.32,0.97),(-0.15,0.95),(-0.26,0.94),(-0.27,0.925),(-0.25,0.90),(0.03,0.95),(0.22,0.94),(0.52,0.92),(0.80,0.92),(0.925,0.93),(-0.16,0.90),
    (-0.12,0.90),(-0.04,0.91),(0.16,0.90),(0.41,0.90),(-0.09,0.87),(0.06,0.89),(0.15,0.875),(0.10,0.84),(0.24,0.84),(0.44,0.845),(0.41,0.82),(0.49,0.825),
    (-0.17,0.825),(-0.02,0.83),(0.67,0.845),(0.70,0.83),(0.40,0.80),(0.57,0.815),(0.61,0.795),(0.15,0.78),(0.54,0.75),(0.62,0.75),(0.36,0.745),(0.42,0.74),
    (-0.49,0.71),(-0.10,0.715),(-0.06,0.71),(0.07,0.72),(0.20,0.715),(0.505,0.72),(0.575,0.72),(-0.17,0.70),(0.395,0.695),(-0.16,0.675),(0.45,0.675),(0.52,0.69),
    (0.08,0.68),(0.15,0.67),(0.14,0.655),(-0.03,0.66),(0.31,0.66),(0.66,0.65),(-0.40,0.60),(-0.16,0.61),(-0.08,0.60),(-0.04,0.60),(0.45,0.62),(0.41,0.59),
    (0.595,0.59),(0.58,0.56),(-0.42,0.52),(0.05,0.52),(-0.04,0.50),(0.08,0.495),(0.385,0.52),(-0.225,0.48),(0.525,0.455),(0.56,0.47),(0.60,0.465),(0.14,0.45),
    (1.065,0.48),(-0.27,0.41),(-0.19,0.42),(-0.175,0.415),(0.17,0.32),(0.26,0.33),(0.245,0.30),(-0.29,0.29),(0.52,0.25),(0.385,0.23),(-0.69,0.02)]
cc_black = [(1.01,2.58),(1.08,2.58),(0.77,2.39),(1.24,2.27),(0.63,2.12),(0.98,2.05),(0.44,1.86),(0.63,1.74),(0.65,1.70),(0.84,1.70),(0.47,1.60),(0.58,1.48),
    (0.56,1.44),(0.37,1.26),(0.47,1.245),(0.62,1.27),(0.45,1.075),(0.55,1.055),(0.13,1.0),(0.44,1.0),(0.35,0.965),(0.50,0.96),(0.585,0.935),(0.295,0.915),
    (0.385,0.92),(0.25,0.865),(0.0,0.815),(0.26,0.795),(0.325,0.74),(0.07,0.67),(-0.06,0.65),(-0.10,0.625),(-0.31,0.575),(-0.305,0.505),(0.36,0.49),(-0.46,0.28),(-0.25,0.21)]
agn_xray = [(1.01,2.66),(0.44,1.86)]
agn_mir = [(0.63,2.12)]
mips_24 = [(1.11,2.59),(1.29,2.65),(1.12,2.21),(0.98,2.05),(0.80,1.98),(0.62,1.27),(0.63,2.12)]
seq_line_x = [0.30, 1.25]
seq_line_y = [1.25, 2.85]
reddening_tail = (1.0, 0.297)
reddening_head = (1.22, 0.673)

# red fraction vs environment
env_labels = ['field', 'outskirts', 'filament', 'core']
env_pos = [1, 2, 3, 4]
all_frac = [0.028, 0.0, 0.07, 0.192]
all_low = [0.012, 0.0, 0.035, 0.10]
all_high = [0.045, 0.0, 0.10, 0.286]
bright_pos = [1.195, 2.19, 3.2, 4.2]
bright_frac = [0.128, 0.008, 0.348, 0.498]
bright_low = [0.028, 0.008, 0.205, 0.148]
bright_high = [0.22, 0.008, 0.49, 0.85]
faint_pos = [0.79, 1.8, 2.79, 3.8]
faint_frac = [0.02, 0.008, 0.026, 0.096]
faint_low = [0.01, 0.008, 0.015, 0.03]
faint_high = [0.03, 0.008, 0.04, 0.176]

box_lines = ['Most of red [OII] emitters which prefer', 'to be located in higher density regions',
             'are likely to be passively evolving', 'galaxies with AGN activity.']

HEAVY = [pe.withStroke(linewidth=1.1, foreground=INK)]


def px_axes(fig, left, top, right, bottom):
    ax = fig.add_axes([left / W, 1 - bottom / H, (right - left) / W, (bottom - top) / H])
    ax.patch.set_alpha(0)
    return ax


def style_box(ax, lw, maj, mnr):
    for s in ax.spines.values():
        s.set_linewidth(lw)
        s.set_color(INK)
    ax.tick_params(which='major', direction='in', top=True, right=True, length=maj, width=lw, color=INK)
    ax.tick_params(which='minor', direction='in', top=True, right=True, length=mnr, width=lw, color=INK)


def cmd_panel(ax, grey, black, name, grey_size=24, top=False, bottom=False, left=False, right=False):
    ax.set_xlim(19.5, 23.4)
    ax.set_ylim(0, 3.5)
    ax.xaxis.set_major_locator(MultipleLocator(1))
    ax.xaxis.set_minor_locator(MultipleLocator(0.5))
    ax.yaxis.set_major_locator(MultipleLocator(1))
    ax.yaxis.set_minor_locator(MultipleLocator(0.5))
    style_box(ax, 3.2, 30, 15)
    ax.tick_params(which='major', labeltop=top, labelbottom=bottom, labelleft=left, labelright=right,
                   labelsize=45, labelcolor=INK)
    ax.tick_params(axis='x', which='major', pad=24)
    ax.tick_params(axis='x', which='major', labeltop=top, pad=24 if bottom else 17)
    ax.tick_params(axis='y', which='major', pad=27)
    for lab in ax.get_xticklabels() + ax.get_yticklabels():
        lab.set_family('DejaVu Serif')
        lab.set_path_effects(HEAVY)
    g = np.array(grey)
    b = np.array(black)
    ax.scatter(g[:, 0], g[:, 1], s=grey_size, color=GREY, linewidths=0, zorder=2)
    ax.scatter(b[:, 0], b[:, 1], s=105, color='#1a1b1e', linewidths=0, zorder=3)
    ax.text(20, 3.0, name, family='DejaVu Serif', weight='bold', fontsize=24.5, color=INK, va='center', zorder=4)


plt.rcParams['font.family'] = 'Liberation Sans'
plt.rcParams['axes.unicode_minus'] = True
fig = plt.figure(figsize=(W / 100, H / 100), dpi=100, facecolor=BG)

# page layer in pixels
page = fig.add_axes([0, 0, 1, 1], zorder=0)
page.set_xlim(0, W)
page.set_ylim(H, 0)
page.axis('off')
page.add_patch(Rectangle((34, 43), 1487, 1437, fc='white', ec='none'))
right_top = Rectangle((1577, 92), 1240, 685, fc='white', ec='none')
page.add_patch(right_top)
page.add_patch(Rectangle((1656, 916), 1083, 1040, fc='white', ec='none'))
page.add_patch(FancyBboxPatch((4, 1517), 1582, 500, boxstyle='round,pad=0,rounding_size=60', fc=BG, ec='#bcdde6', lw=4))
cut = page.text(1666, 788, '3', rotation=90, family='DejaVu Serif', fontsize=36, color=INK, ha='center', va='center')
cut.set_clip_path(right_top)
cut.set_clip_on(True)

# four colour-magnitude panels
ax_a = px_axes(fig, 300, 148.5, 843, 692.5)
ax_b = px_axes(fig, 843, 148.5, 1387, 692.5)
ax_c = px_axes(fig, 300, 692.5, 843, 1237.5)
ax_d = px_axes(fig, 843, 692.5, 1387, 1237.5)
cmd_panel(ax_a, core_grey, core_black, '(a) core', top=True, left=True)
cmd_panel(ax_b, filament_grey, filament_black, '(b) filament', grey_size=30, top=True, right=True)
cmd_panel(ax_c, outskirts_grey, outskirts_black, '(c) outskirts', bottom=True, left=True)
cmd_panel(ax_d, field_grey, field_black, '(d) field', grey_size=40, bottom=True, right=True)
crowd = np.array(filament_crowd)
ax_b.scatter(crowd[:, 0], crowd[:, 1], s=70, color=GREY, linewidths=0, zorder=1.5)
busy = np.array(field_busy)
ax_d.scatter(busy[:, 0], busy[:, 1], s=40, color=GREY, linewidths=0, zorder=1.5)
mass = np.array(field_mass)
ax_d.scatter(mass[:, 0], mass[:, 1], s=620, color=GREY, linewidths=0, zorder=1.5)

page.text(155, 729, 'z ’−K', rotation=90, family='Liberation Serif', style='italic', fontsize=78, color=INK, ha='center', va='center')
page.text(880, 1406, 'K', family='Liberation Serif', style='italic', fontsize=82, color=INK, ha='center', va='center')
page.text(52, 1384, 'Black dots: [OII] emiters', fontsize=38, color='black', va='center', zorder=5)
page.text(52, 1453, 'Grey dots: cluster member candidates', fontsize=38, color='black', va='center', zorder=5)

# fraction panel
ax_f = px_axes(fig, 1709, 120, 2793, 662)
ax_f.set_xlim(0, 5)
ax_f.set_ylim(-0.05, 0.897)
ax_f.set_xticks(env_pos)
ax_f.set_xticklabels([])
ax_f.yaxis.set_major_locator(MultipleLocator(0.2))
ax_f.yaxis.set_minor_locator(MultipleLocator(0.1))
style_box(ax_f, 3.4, 24, 13)
ax_f.tick_params(axis='x', length=22)
ax_f.tick_params(axis='y', labelsize=38, labelcolor=INK, pad=22, labelrotation=90)
ax_f.set_yticks([0, 0.2, 0.4, 0.6, 0.8])
ax_f.set_yticklabels(['0', '0.2', '0.4', '0.6', '0.8'], family='DejaVu Serif', va='center', path_effects=HEAVY)


def err(vals, low, high):
    v = np.array(vals)
    return [v - np.array(low), np.array(high) - v]


ax_f.errorbar(faint_pos, faint_frac, yerr=err(faint_frac, faint_low, faint_high), color=INK, lw=3, dashes=(11, 4.5), marker='^', ms=25, mfc='none',
              mew=2.8, capsize=13, capthick=3.4, elinewidth=3)
ax_f.errorbar(bright_pos, bright_frac, yerr=err(bright_frac, bright_low, bright_high), color=INK, lw=3, dashes=(12, 5), marker='o', ms=29, mfc='none',
              mew=2.8, capsize=13, capthick=3.4, elinewidth=3)
ax_f.errorbar(env_pos, all_frac, yerr=err(all_frac, all_low, all_high), color=INK, lw=4.8, marker='s', ms=21, capsize=13, capthick=3.8, elinewidth=3.4)
for lab, x, y in zip(env_labels, [1908, 2057, 2284, 2557], [714, 733, 727, 705]):
    page.text(x, y, lab, rotation=19, rotation_mode='anchor', family='DejaVu Serif', fontsize=41, color=INK, ha='center', va='center', path_effects=HEAVY)
for txt, y in zip(['Filled squares: all [OII] emitters', 'Open circles: [OII] emitters w/ K<21.5', 'Open triangles: [OII] emitters w/ K>21.5'], [201, 252, 306]):
    page.text(1776, y, txt, fontsize=30.7, color='black', va='center')

# colour-colour panel
ax_c2 = px_axes(fig, 1829.6, 927, 2708, 1806)
ax_c2.set_xlim(-0.70, 1.70)
ax_c2.set_ylim(-0.10, 3.2)
ax_c2.xaxis.set_major_locator(MultipleLocator(0.5))
ax_c2.xaxis.set_minor_locator(MultipleLocator(0.25))
ax_c2.yaxis.set_major_locator(MultipleLocator(1))
ax_c2.yaxis.set_minor_locator(MultipleLocator(0.5))
style_box(ax_c2, 2.8, 24, 12)
ax_c2.tick_params(which='major', labelsize=34, labelcolor=INK, pad=20)
ax_c2.set_xticks([-0.5, 0, 0.5, 1, 1.5])
ax_c2.set_xticklabels(['−0.5', '0', '0.5', '1', '1.5'], family='DejaVu Serif', path_effects=HEAVY)
ax_c2.set_yticks([0, 1, 2, 3])
ax_c2.set_yticklabels(['0', '1', '2', '3'], family='DejaVu Serif', path_effects=HEAVY)
g = np.array(cc_grey)
b = np.array(cc_black)
ax_c2.scatter(g[:, 0], g[:, 1], s=32, color='#a3a5a8', linewidths=0, zorder=2)
ax_c2.scatter(b[:, 0], b[:, 1], s=105, color='#1a1b1e', linewidths=0, zorder=3)
ax_c2.axhline(2.2, color='black', lw=4.2, dashes=(0.48, 0.48), zorder=2.5)
ax_c2.plot(seq_line_x, seq_line_y, color=INK, lw=1.9, dashes=(8, 4), zorder=2.5)
m = np.array(mips_24)
ax_c2.plot(m[:, 0], m[:, 1], ls='none', marker='o', ms=17, mfc='none', mec=CYAN, mew=4.2, zorder=4)
r = np.array(agn_xray)
ax_c2.plot(r[:, 0], r[:, 1], ls='none', marker='s', ms=21, mfc='none', mec=RED, mew=4.5, zorder=4)
r = np.array(agn_mir)
ax_c2.plot(r[:, 0], r[:, 1], ls='none', marker='s', ms=21, mfc='none', mec=MAGENTA, mew=4.5, zorder=4)
ax_c2.annotate('', xy=reddening_head, xytext=reddening_tail, arrowprops=dict(arrowstyle='->,head_length=1.3,head_width=0.55', color=INK, lw=2.8, shrinkA=0, shrinkB=0))
ax_c2.text(0.995, 0.2, 'E(B−V)=0.1', family='DejaVu Serif', weight='bold', fontsize=20.8, color=INK, ha='center', va='center')
leg_x = -0.414
txt_x = -0.316
ax_c2.plot([leg_x], [2.94], marker='s', ms=13, mfc='none', mec=RED, mew=2.6)
ax_c2.plot([leg_x], [2.806], marker='s', ms=13, mfc='none', mec=MAGENTA, mew=2.6)
ax_c2.plot([leg_x], [2.677], marker='o', ms=16, mfc='none', mec=CYAN, mew=2.8)
ax_c2.plot([leg_x], [2.54], marker='o', ms=9.5, color='#1a1b1e')
for txt, y, col in zip(['AGNs (X-ray)', 'AGN  (MIR)', '24μm sources', '[OII] emitters'], [2.94, 2.806, 2.677, 2.54], [RED, MAGENTA, CYAN, INK]):
    ax_c2.text(txt_x, y, txt, family='DejaVu Serif', weight='bold', fontsize=22.7, color=col, va='center')

page2 = fig.add_axes([0, 0, 1, 1], zorder=5)
page2.set_xlim(0, W)
page2.set_ylim(H, 0)
page2.axis('off')
page2.text(2251, 1120, 'Sequence of', rotation=48, rotation_mode='anchor', fontsize=34.5, color='black', ha='center', va='center')
page2.text(2295, 1165, 'quiescent galaxies', rotation=48, rotation_mode='anchor', fontsize=34.5, color='black', ha='center', va='center')
page2.text(2498, 1317, 'Sequence of dusty red galaxy', rotation=50.8, rotation_mode='anchor', fontsize=35, color='black', ha='center', va='center')
page2.text(1713, 1375, 'z ’−K', rotation=90, family='Liberation Serif', style='italic', fontsize=60, color=INK, ha='center', va='center')
page2.text(2281, 1932, 'J−K', family='Liberation Serif', style='italic', fontsize=60, color=INK, ha='center', va='center')

# headings and the summary box
page2.text(1537, 68, 'Fraction of red [OII] emitters to all [OII] emitters', fontsize=46.1, color='white', va='baseline')
page2.text(1566, 893, 'Color – color diagram in the cluster core', fontsize=54, color='white', va='baseline')
for i, line in enumerate(box_lines):
    page2.text(77, 1636 + i * 102.5, line, fontsize=61.3, color='white', va='baseline')

fig.savefig('out.png', dpi=100, facecolor=BG)
